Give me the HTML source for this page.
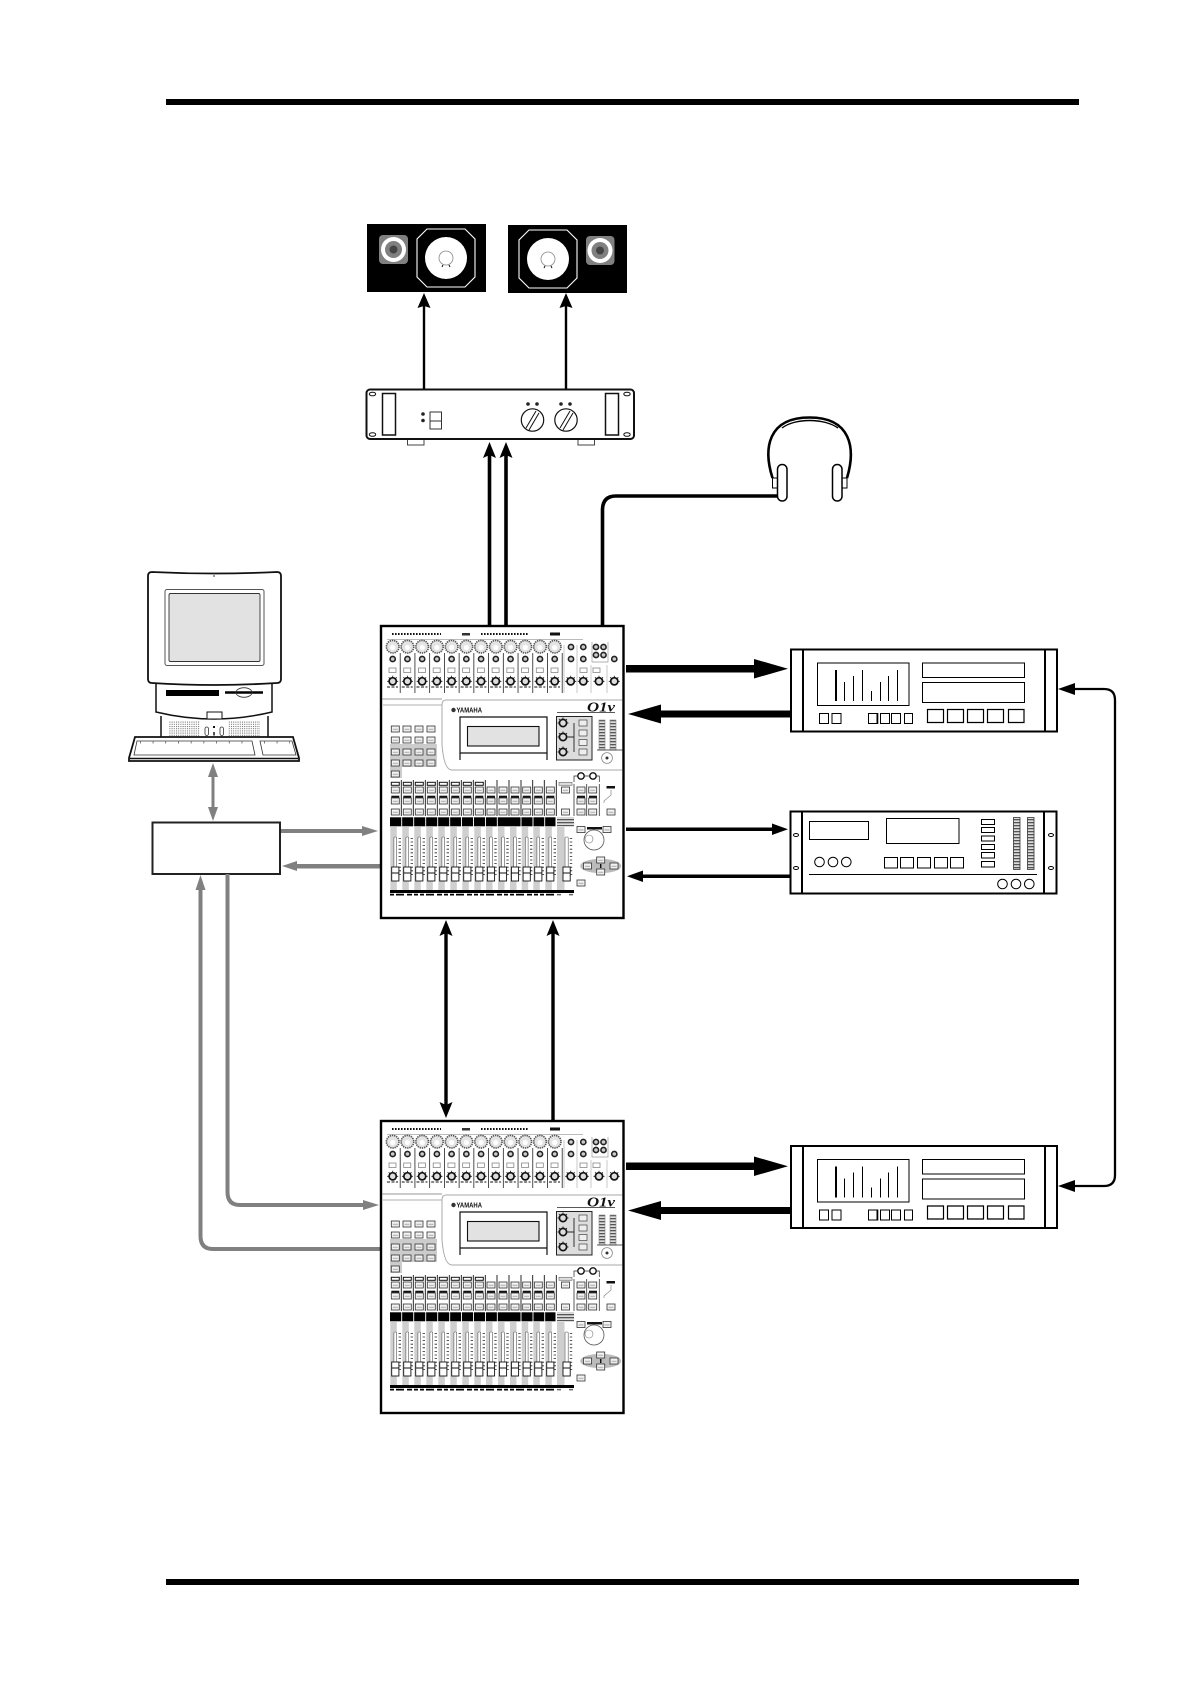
<!DOCTYPE html>
<html><head><meta charset="utf-8"><title>Diagram</title>
<style>html,body{margin:0;padding:0;background:#fff}svg{display:block}</style></head>
<body>
<svg xmlns="http://www.w3.org/2000/svg" width="1190" height="1684" viewBox="0 0 1190 1684">
<defs>
<pattern id="gr" width="2.2" height="2.2" patternUnits="userSpaceOnUse"><rect width="1" height="1" fill="#666"/></pattern>
<pattern id="hatch" width="3" height="3" patternUnits="userSpaceOnUse"><rect width="3" height="1.4" fill="#555"/><rect y="1.4" width="3" height="1.6" fill="#ddd"/></pattern>
<g id="b"><rect x="-4" y="-3" width="8" height="6" fill="#f2f2f2" stroke="#333" stroke-width=".8"/><rect x="-2.5" y="-.3" width="5" height="1.4" fill="#bbb"/></g>
<g id="k4"><circle r="3.6" fill="#ddd" stroke="#111" stroke-width="1.7"/><path d="M0-5.5V-3M-5.5 0H-3.5M5.5 0H3.5M-4-4-2.7-2.7M4-4 2.7-2.7" stroke="#111" stroke-width=".8"/></g>
<g id="k3"><circle r="2.6" fill="#ccc" stroke="#222" stroke-width="1.6"/></g>
<g id="ct">
<circle cx="392.7" cy="646.7" r="6.3" fill="#e4e4e4" stroke="#555" stroke-width="1.6" stroke-dasharray="1.4 .8"/>
<circle cx="392.7" cy="647.5" r="2.6" fill="#fff"/>
<use href="#k3" x="392.7" y="659"/>
<rect x="389" y="668" width="7" height="4.5" fill="#fff" stroke="#888" stroke-width=".8"/>
<use href="#k4" x="392.7" y="681.3"/>
<path d="M387 687H398" stroke="#111" stroke-width="1" stroke-dasharray="3 1.5"/>
<path d="M400.2 653V693" stroke="#222" stroke-width=".8"/>
</g>
<g id="cl">
<rect x="-5" y="827" width="6.5" height="63" fill="#cfcfcf"/>
<use href="#b" x="0" y="790"/>
<rect x="-4" y="795.7" width="8" height="2.2" fill="#111"/>
<use href="#b" x="0" y="801"/>
<use href="#b" x="0" y="812"/>
<path d="M6 780V816" stroke="#111" stroke-width=".9"/>
<rect x="-1.4" y="837" width="2.8" height="42" rx="1" fill="#fff" stroke="#555" stroke-width=".6"/>
<path d="M4.5 838V877" stroke="#222" stroke-width="2.4" stroke-dasharray=".8 2.8"/>
<rect x="-3.6" y="867" width="7.2" height="14" fill="#fff" stroke="#111" stroke-width=".9"/>
<path d="M-3.6 873H3.6" stroke="#111" stroke-width="1"/>
</g>
<g id="wr"><rect x="-4" y="782.3" width="8" height="3" fill="#fff" stroke="#111" stroke-width="1"/></g>
<g id="mixer">
<rect x="381" y="626" width="242.5" height="292" fill="#fff" stroke="#000" stroke-width="2.4"/>
<path d="M392 634H441M481 634H529" stroke="#111" stroke-width="2" stroke-dasharray="1.6 1.4"/>
<rect x="462" y="633" width="8" height="2.5" fill="#333"/><rect x="550" y="632.5" width="10" height="3" fill="#111"/>
<path d="M387 639.5H583" stroke="#bbb" stroke-width=".9"/>
<use href="#ct"/><use href="#ct" x="14.73"/><use href="#ct" x="29.46"/><use href="#ct" x="44.19"/><use href="#ct" x="58.92"/><use href="#ct" x="73.65"/><use href="#ct" x="88.38"/><use href="#ct" x="103.11"/><use href="#ct" x="117.84"/><use href="#ct" x="132.57"/><use href="#ct" x="147.3"/><use href="#ct" x="162"/>
<use href="#k3" x="571" y="647"/><use href="#k3" x="583.3" y="647"/><use href="#k3" x="571" y="659"/><use href="#k3" x="583.3" y="659"/>
<use href="#k3" x="596" y="647"/><use href="#k3" x="603.5" y="647"/><use href="#k3" x="596" y="655"/><use href="#k3" x="603.5" y="655"/>
<path d="M592 642V662H608V642" fill="none" stroke="#999" stroke-width=".7"/>
<use href="#k3" x="614.3" y="659"/>
<rect x="580" y="668" width="7" height="4.5" fill="#fff" stroke="#888" stroke-width=".8"/>
<rect x="593" y="668" width="7" height="4.5" fill="#fff" stroke="#888" stroke-width=".8"/>
<use href="#k4" x="570.7" y="681.3"/><use href="#k4" x="583.3" y="681.3"/><use href="#k4" x="599" y="681.3"/><use href="#k4" x="614.3" y="681.3"/>
<path d="M564 645V693M577 645V693M591 665V693M607 665V693" stroke="#bbb" stroke-width=".8"/>
<path d="M382 699H442" stroke="#777" stroke-width=".8"/><path d="M382 705H442" stroke="#ccc" stroke-width="1.6"/>
<path d="M622 700H446Q442 700 442 705V745Q444 770 452 770H622" fill="none" stroke="#aaa" stroke-width="1"/>
<circle cx="453.500" cy="710" r="2.200" fill="#333"/>
<text x="456.500" y="712.500" font-family="'Liberation Sans',sans-serif" font-weight="bold" font-size="7" textLength="25.500" lengthAdjust="spacingAndGlyphs" fill="#111">YAMAHA</text>
<text x="587" y="711.500" font-family="'Liberation Serif',serif" font-style="italic" font-weight="bold" font-size="14" textLength="28" lengthAdjust="spacingAndGlyphs" fill="#111">O1v</text>
<path d="M557 712.5H615" stroke="#222" stroke-width=".8"/>
<path d="M460 760V717H547V760M460 753H547" fill="none" stroke="#111" stroke-width="1.2"/>
<rect x="467.5" y="726.5" width="71.5" height="19.5" fill="#e2e2e2" stroke="#111" stroke-width="1.1"/>
<rect x="556.5" y="716.5" width="35.5" height="43.5" fill="#ddd" stroke="#222" stroke-width="1"/>
<use href="#k4" x="563" y="723"/><use href="#k4" x="563" y="737"/><use href="#k4" x="563" y="752"/>
<path d="M568 737H574M574 723V752" stroke="#222" stroke-width=".9" fill="none"/>
<rect x="579" y="720" width="8" height="6" fill="#eee" stroke="#444" stroke-width=".7"/><rect x="579" y="730" width="8" height="6" fill="#eee" stroke="#444" stroke-width=".7"/><rect x="579" y="739.5" width="8" height="6" fill="#eee" stroke="#444" stroke-width=".7"/><rect x="579" y="749" width="8" height="6" fill="#eee" stroke="#444" stroke-width=".7"/>
<rect x="599" y="720" width="6" height="30" fill="url(#hatch)" stroke="#888" stroke-width=".6"/><rect x="610" y="720" width="6" height="30" fill="url(#hatch)" stroke="#888" stroke-width=".6"/>
<path d="M597 750H623" stroke="#222" stroke-width=".7"/>
<circle cx="607" cy="758" r="5.4" fill="#fff" stroke="#888" stroke-width=".8"/><circle cx="607" cy="758" r="1.5" fill="#333"/>
<path d="M390 744H437V767H402V778H390Z" fill="#ccc"/>
<use href="#b" x="395.3" y="729"/><use href="#b" x="407" y="729"/><use href="#b" x="419" y="729"/><use href="#b" x="431" y="729"/>
<use href="#b" x="395.3" y="740"/><use href="#b" x="407" y="740"/><use href="#b" x="419" y="740"/><use href="#b" x="431" y="740"/>
<use href="#b" x="395.3" y="752"/><use href="#b" x="407" y="752"/><use href="#b" x="419" y="752"/><use href="#b" x="431" y="752"/>
<use href="#b" x="395.3" y="763"/><use href="#b" x="407" y="763"/><use href="#b" x="419" y="763"/><use href="#b" x="431" y="763"/>
<use href="#b" x="395.3" y="774"/>
<rect x="390" y="817.3" width="165.5" height="9" fill="#000"/>
<path d="M401.7 817V827M413.7 817V827M425.7 817V827M437.7 817V827M449.7 817V827M461.5 817V827M473.5 817V827M485.5 817V827M497.3 817V827M521 817V827M533 817V827M544.7 817V827" stroke="#fff" stroke-width=".9"/>
<rect x="557" y="817.3" width="17" height="9" fill="url(#hatch)"/>
<rect x="557" y="827" width="7.5" height="64" fill="#cfcfcf"/>
<use href="#cl" x="395.3"/><use href="#cl" x="407.3"/><use href="#cl" x="419.3"/><use href="#cl" x="431.3"/><use href="#cl" x="443.3"/><use href="#cl" x="455.3"/><use href="#cl" x="467.3"/><use href="#cl" x="479.3"/><use href="#cl" x="491"/><use href="#cl" x="503"/><use href="#cl" x="515"/><use href="#cl" x="526.7"/><use href="#cl" x="538.3"/><use href="#cl" x="550.3"/>
<use href="#wr" x="395.3"/><use href="#wr" x="407.3"/><use href="#wr" x="419.3"/><use href="#wr" x="431.3"/><use href="#wr" x="443.3"/><use href="#wr" x="455.3"/><use href="#wr" x="467.3"/><use href="#wr" x="479.3"/>
<rect x="559" y="782.3" width="13" height="3" fill="#ddd" stroke="#777" stroke-width=".7"/>
<use href="#b" x="565.5" y="790"/><use href="#b" x="565.5" y="812"/>
<rect x="565" y="837" width="3.2" height="42" rx="1" fill="#fff" stroke="#555" stroke-width=".6"/>
<path d="M571 838V877" stroke="#222" stroke-width="2.4" stroke-dasharray=".8 2.8"/>
<rect x="563" y="867" width="7.2" height="14" fill="#fff" stroke="#111" stroke-width=".9"/><path d="M563 873H570.2" stroke="#111"/>
<circle cx="581" cy="776" r="3.2" fill="#fff" stroke="#111" stroke-width="1.4"/><circle cx="593" cy="776" r="3.2" fill="#fff" stroke="#111" stroke-width="1.4"/>
<path d="M574 782V776H578M584 776H590M596 776H599.3V782" fill="none" stroke="#222" stroke-width=".7"/>
<path d="M574 784V816M586.7 784V816M599.3 784V816" stroke="#333" stroke-width=".8"/>
<use href="#b" x="581" y="790"/><use href="#b" x="592.7" y="790"/><rect x="577" y="795.7" width="8" height="2.2" fill="#111"/><rect x="589" y="795.7" width="8" height="2.2" fill="#111"/><use href="#b" x="581" y="801"/><use href="#b" x="592.7" y="801"/><use href="#b" x="581" y="812"/><use href="#b" x="592.7" y="812"/>
<rect x="606.5" y="786" width="8.5" height="2.5" fill="#111"/><path d="M611 790V795L604 801V803" fill="none" stroke="#888" stroke-width=".7"/>
<use href="#b" x="611" y="812"/>
<use href="#b" x="581" y="829.5"/><use href="#b" x="607" y="829.5"/>
<rect x="587" y="827" width="15" height="2.5" fill="#111"/>
<circle cx="594" cy="840" r="10" fill="#fff" stroke="#555" stroke-width=".8"/><circle cx="589" cy="839" r="4" fill="#fff" stroke="#777" stroke-width=".6"/>
<ellipse cx="600.7" cy="866" rx="20.5" ry="7.2" fill="#bbb"/>
<use href="#b" x="587.5" y="866"/><use href="#b" x="614" y="866"/><use href="#b" x="600.7" y="860"/><use href="#b" x="600.7" y="872"/>
<rect x="600" y="864" width="1.4" height="4" fill="#111"/>
<use href="#b" x="581" y="883"/>
<rect x="390" y="890" width="184" height="3" fill="#000"/>
<path d="M390 894.6H555" stroke="#000" stroke-width="1.8" stroke-dasharray="4 2 8 3 5 2 4 2"/>
<path d="M557 894.6H574" stroke="#666" stroke-width="1.5" stroke-dasharray="4 8"/>
</g>
<g id="rec">
<rect x="791" y="649.5" width="266" height="82" fill="#fff" stroke="#000" stroke-width="2"/>
<path d="M803 649V732M1045 649V732" stroke="#000" stroke-width="2"/>
<rect x="817.5" y="663" width="91.5" height="42.5" fill="#fff" stroke="#000" stroke-width="1"/>
<path d="M836 670V701" stroke="#000" stroke-width="2"/>
<path d="M844.5 682V701M853.5 676V701M862.5 670V701M871.5 691V701M880.5 682V701M888.5 676V701M897.5 670V701" stroke="#000" stroke-width="1"/>
<rect x="922.5" y="663" width="102" height="14.5" fill="#fff" stroke="#000" stroke-width="1"/>
<rect x="922.5" y="682.5" width="102" height="20" fill="#fff" stroke="#000" stroke-width="1"/>
<path d="M819.5 713.5h9v10h-9zM832 713.5h9v10h-9zM868.5 713.5h8.5v10h-8.5zM880.5 713.5h9v10h-9zM891.5 713.5h9v10h-9zM904.5 713.5h8v10h-8z" fill="#fff" stroke="#000" stroke-width="1"/>
<path d="M877.5 713V724" stroke="#000" stroke-width="1.6"/>
<path d="M927.5 709.5h16v13h-16zM947.5 709.5h16v13h-16zM967.5 709.5h16v13h-16zM987.5 709.5h16v13h-16zM1008.5 709.5h15.5v13h-15.5z" fill="#fff" stroke="#000" stroke-width="1.2"/>
</g>
</defs>

<rect x="166" y="99" width="913" height="6" fill="#000"/>
<rect x="166" y="1579" width="913" height="6" fill="#000"/>

<rect x="367" y="224" width="119" height="68" fill="#000"/>
<path d="M427 229H465L475 239V277L465 287H427L417 277V239Z" fill="#000" stroke="#fff" stroke-width="1.1"/>
<circle cx="446" cy="258" r="21" fill="#fff"/><circle cx="446" cy="258" r="7" fill="#fff" stroke="#888" stroke-width=".8"/>
<path d="M443 265l-1 2M449 265l1 2" stroke="#111" stroke-width="1"/>
<rect x="379" y="235" width="29" height="29" rx="4" fill="#808080"/>
<circle cx="393.5" cy="249.5" r="12.5" fill="#fff"/><circle cx="393.5" cy="249.5" r="8.5" fill="#808080"/><circle cx="393.5" cy="249.5" r="4" fill="#444"/>
<rect x="508" y="225" width="119" height="68" fill="#000"/>
<path d="M529 230H567L577 240V278L567 288H529L519 278V240Z" fill="#000" stroke="#fff" stroke-width="1.1"/>
<circle cx="548" cy="259" r="21" fill="#fff"/><circle cx="548" cy="259" r="7" fill="#fff" stroke="#888" stroke-width=".8"/>
<path d="M545 266l-1 2M551 266l1 2" stroke="#111" stroke-width="1"/>
<rect x="586" y="236" width="28.5" height="29" rx="4" fill="#808080"/>
<circle cx="600" cy="250.5" r="12.5" fill="#fff"/><circle cx="600" cy="250.5" r="8.5" fill="#808080"/><circle cx="600" cy="250.5" r="4" fill="#444"/>

<path d="M424 305V389M566 305V389" stroke="#000" stroke-width="2.4"/>
<polygon points="424,293 417.5,308 424,306 430.5,308" fill="#000"/>
<polygon points="566,293 559.5,308 566,306 572.5,308" fill="#000"/>
<rect x="407.5" y="439" width="16.5" height="6" fill="#fff" stroke="#444" stroke-width="1"/>
<rect x="578" y="439" width="16.5" height="6" fill="#fff" stroke="#444" stroke-width="1"/>
<rect x="366.5" y="389.5" width="267.5" height="49.5" rx="3.5" fill="#fff" stroke="#111" stroke-width="2"/>
<ellipse cx="372.5" cy="394" rx="3.2" ry="1.8" fill="#fff" stroke="#111"/><ellipse cx="372.5" cy="434.5" rx="3.2" ry="1.8" fill="#fff" stroke="#111"/>
<ellipse cx="627" cy="394" rx="3.2" ry="1.8" fill="#fff" stroke="#111"/><ellipse cx="627" cy="434.5" rx="3.2" ry="1.8" fill="#fff" stroke="#111"/>
<rect x="382.5" y="393.5" width="13" height="41.5" fill="#fff" stroke="#111" stroke-width="1.5"/>
<rect x="605.5" y="393.5" width="13" height="41.5" fill="#fff" stroke="#111" stroke-width="1.5"/>
<rect x="430" y="412" width="11.5" height="17" fill="#fff" stroke="#333" stroke-width="1"/><path d="M430 421H441.5" stroke="#333" stroke-width="1"/>
<circle cx="423" cy="414" r="1.8" fill="#222"/><circle cx="423" cy="420.5" r="1.8" fill="#222"/>
<circle cx="528" cy="404" r="1.8" fill="#222"/><circle cx="537" cy="404" r="1.8" fill="#222"/><circle cx="561" cy="404" r="1.8" fill="#222"/><circle cx="570" cy="404" r="1.8" fill="#222"/>
<circle cx="532.5" cy="420" r="11.2" fill="#fff" stroke="#111" stroke-width="1.2"/><path d="M526 428L536 411M529 430L539 413" stroke="#111" stroke-width="1"/>
<circle cx="566" cy="420" r="11.2" fill="#fff" stroke="#111" stroke-width="1.2"/><path d="M560 428L570 411M563 430L573 413" stroke="#111" stroke-width="1"/>

<path d="M489.5 455V626M506 455V626" stroke="#000" stroke-width="3.6"/>
<polygon points="489.5,442 483,458 489.5,455 496,458" fill="#000"/>
<polygon points="506,442 499.5,458 506,455 512.5,458" fill="#000"/>

<path d="M602.5 626V510Q602.5 496 616 496H778" fill="none" stroke="#000" stroke-width="3.6"/>
<path d="M772.500 478C763 448 768 417.500 809.500 417.500C851 417.500 856 448 847 478" fill="none" stroke="#000" stroke-width="2.600"/>
<path d="M782 428C795 418 824 418 838 428" fill="none" stroke="#000" stroke-width="1.400"/>
<rect x="772.5" y="478" width="5" height="10" fill="#fff" stroke="#000" stroke-width="1"/>
<rect x="842" y="478" width="5" height="10" fill="#fff" stroke="#000" stroke-width="1"/>
<rect x="777.5" y="464.5" width="9.5" height="36.5" rx="4.7" fill="#fff" stroke="#000" stroke-width="1.5"/>
<rect x="832.5" y="464.5" width="9.5" height="36.5" rx="4.7" fill="#fff" stroke="#000" stroke-width="1.5"/>

<path d="M156 684V712Q214 726 272 712V684" fill="#fff" stroke="#111" stroke-width="1.5"/>
<rect x="166" y="690" width="53" height="6" fill="#000"/>
<path d="M225 692.5H263" stroke="#000" stroke-width="2.5"/>
<ellipse cx="244" cy="692.5" rx="8" ry="4.8" fill="none" stroke="#333" stroke-width=".8"/>
<path d="M161 716V737M268 716V737" stroke="#111" stroke-width="1.5"/>
<rect x="169" y="721" width="31" height="15" fill="url(#gr)"/><rect x="228" y="721" width="32" height="15" fill="url(#gr)"/>
<rect x="207" y="712" width="15" height="7" fill="#fff" stroke="#111" stroke-width="1"/>
<rect x="205" y="727" width="3.5" height="8.5" rx="1.7" fill="#fff" stroke="#333" stroke-width=".8"/><rect x="220" y="727" width="3.5" height="8.5" rx="1.7" fill="#fff" stroke="#333" stroke-width=".8"/>
<rect x="213" y="726" width="2" height="2" fill="#111"/><rect x="213" y="732" width="2" height="3.5" fill="#555"/>
<path d="M152 572Q214 575 277 572Q281 572 281 576V679Q281 683 277 683Q214 687 152 683Q148 683 148 679V576Q148 572 152 572Z" fill="#fff" stroke="#111" stroke-width="1.8"/>
<rect x="165" y="589.5" width="99" height="76" rx="2" fill="#fff" stroke="#555" stroke-width="1"/>
<rect x="169" y="593.5" width="91" height="68" rx="1.5" fill="#e2e2e2" stroke="#333" stroke-width=".9"/>
<rect x="213.5" y="575" width="1" height="2" fill="#333"/>
<polygon points="135,737 293,737 299,758 299,761 129,761 129,758" fill="#fff" stroke="#111" stroke-width="1.8"/>
<path d="M130 758.5H298" stroke="#111" stroke-width="1.5"/>
<polygon points="137,741 252,741 255,755 134,755" fill="#fff" stroke="#333" stroke-width=".8"/>
<polygon points="260,741 292,741 296,755 263,755" fill="#fff" stroke="#333" stroke-width=".8"/>
<path d="M140 742.5H250M264 742.5H290" stroke="#444" stroke-width="2" stroke-dasharray=".7 12"/>

<g fill="#808080" stroke="none">
<polygon points="213,763 208,777 218,777"/><polygon points="213,821 208,807 218,807"/><rect x="211.5" y="775" width="3" height="34"/>
<rect x="280" y="829" width="84" height="4"/><polygon points="378,831 362,826 362,836"/>
<rect x="296" y="864" width="85" height="4.5"/><polygon points="282,866 297,861 297,871"/>
<polygon points="200.5,875 195.5,890 205.5,890"/>
<polygon points="379,1205 363,1200 363,1210"/>
</g>
<rect x="152.5" y="822.5" width="127.5" height="51.5" fill="none" stroke="#222" stroke-width="2"/>
<path d="M200.5 888V1236Q200.5 1249 213 1249H381" fill="none" stroke="#808080" stroke-width="4"/>
<path d="M227.5 874V1192Q227.5 1205 240 1205H365" fill="none" stroke="#808080" stroke-width="4"/>

<use href="#mixer"/>
<use href="#mixer" y="495"/>

<path d="M446 932V1106M553 932V1120" stroke="#000" stroke-width="3.4"/>
<polygon points="446,920 439.5,936 446,933 452.5,936" fill="#000"/>
<polygon points="446,1118 439.5,1102 446,1105 452.5,1102" fill="#000"/>
<polygon points="553,920 546.5,936 553,933 559.5,936" fill="#000"/>

<use href="#rec"/>
<use href="#rec" y="496.5"/>
<g>
<rect x="790.5" y="811.5" width="266" height="82" fill="#fff" stroke="#000" stroke-width="2"/>
<path d="M802 811V894M1044 811V894" stroke="#000" stroke-width="2"/>
<ellipse cx="796" cy="835" rx="2.5" ry="1.5" fill="#fff" stroke="#000"/><ellipse cx="796" cy="868" rx="2.5" ry="1.5" fill="#fff" stroke="#000"/><ellipse cx="1051" cy="835" rx="2.5" ry="1.5" fill="#fff" stroke="#000"/><ellipse cx="1051" cy="868" rx="2.5" ry="1.5" fill="#fff" stroke="#000"/>
<g fill="#fff" stroke="#000" stroke-width="1">
<rect x="809.5" y="821.5" width="59" height="18"/>
<rect x="886.5" y="818.5" width="72.5" height="25"/>
<circle cx="819.5" cy="862" r="4.8"/><circle cx="833" cy="862" r="4.8"/><circle cx="846.3" cy="862" r="4.8"/>
<rect x="884.5" y="857.5" width="13" height="10.5"/><rect x="900.5" y="857.5" width="13" height="10.5"/><rect x="917.5" y="857.5" width="13" height="10.5"/><rect x="934.5" y="857.5" width="13" height="10.5"/><rect x="950.5" y="857.5" width="13" height="10.5"/>
<circle cx="1002.5" cy="884" r="4.8"/><circle cx="1016" cy="884" r="4.8"/><circle cx="1029.3" cy="884" r="4.8"/>
<rect x="981.5" y="819.5" width="13" height="5"/><rect x="981.5" y="827.5" width="13" height="5"/><rect x="981.5" y="836" width="13" height="5"/><rect x="981.5" y="844.5" width="13" height="5"/><rect x="981.5" y="852.5" width="13" height="5.5"/><rect x="981.5" y="861.5" width="13" height="5.5"/>
</g>
<path d="M809 874.5H1037" stroke="#000" stroke-width="1"/>
<rect x="1013.5" y="817.5" width="6.5" height="52" fill="url(#hatch)" stroke="#333" stroke-width=".8"/>
<rect x="1027.5" y="817.5" width="6.5" height="52" fill="url(#hatch)" stroke="#333" stroke-width=".8"/>
</g>

<rect x="626" y="665" width="130" height="7.5" fill="#000"/><polygon points="788,668.7 754,659 754,678.5" fill="#000"/>
<rect x="660" y="710.5" width="131" height="7" fill="#000"/><polygon points="628,714 661,704.5 661,723.5" fill="#000"/>
<rect x="626" y="827.5" width="148" height="3.5" fill="#000"/><polygon points="788,829.3 772,823.5 772,835" fill="#000"/>
<rect x="640" y="874.5" width="150" height="3.5" fill="#000"/><polygon points="627,876.3 643,870.5 643,882" fill="#000"/>
<rect x="626" y="1162.5" width="130" height="7.5" fill="#000"/><polygon points="788,1166.2 754,1156.5 754,1176" fill="#000"/>
<rect x="660" y="1207" width="131" height="7" fill="#000"/><polygon points="628,1210.5 661,1201 661,1220" fill="#000"/>
<path d="M1072 689H1104Q1115 689 1115 700V1175Q1115 1186 1104 1186H1072" fill="none" stroke="#000" stroke-width="2.3"/>
<polygon points="1058,689 1075,683 1075,695" fill="#000"/>
<polygon points="1058,1186 1075,1180 1075,1192" fill="#000"/>
</svg>
</body></html>
